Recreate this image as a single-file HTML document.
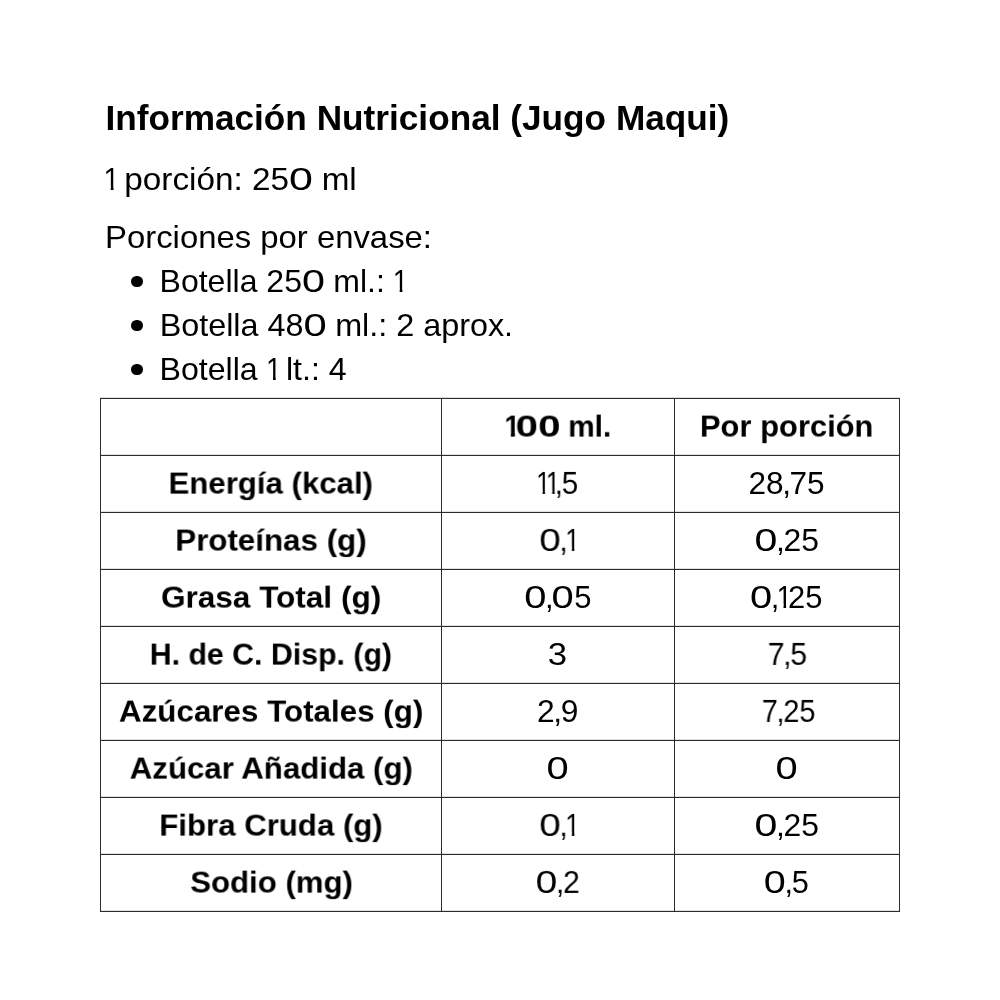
<!DOCTYPE html>
<html lang="es"><head><meta charset="utf-8"><title>Información Nutricional (Jugo Maqui)</title>
<style>
html,body{margin:0;padding:0;background:#fff;}
body{width:1000px;height:1000px;position:relative;overflow:hidden;font-family:"Liberation Sans",sans-serif;color:#000;}
.t{position:absolute;left:0;top:0;white-space:nowrap;line-height:1;transform-origin:0 0;will-change:transform;}
.b{font-weight:bold;}
.h{position:absolute;height:1px;background:#2c2c2c;box-shadow:0 -1px 0 rgba(0,0,0,.12);}
.v{position:absolute;width:1px;background:#2c2c2c;}
.z{display:inline-block;transform:scaleX(1.29);margin:0 .074em;}
.o{display:inline-block;transform:scaleX(.88);margin:0 -.17em 0 -.065em;clip-path:polygon(0 0,62% 0,62% 100%,44.5% 100%,44.5% 74%,0 74%);}
.b .o{transform:scaleX(.95);margin:0 -.13em 0 -.035em;clip-path:polygon(0 0,67.2% 0,67.2% 100%,41.5% 100%,41.5% 71%,0 71%);}
.b .z{transform:scaleX(1.34);margin:0 .083em;}
.k{margin:0 -.045em;}
.dot{position:absolute;width:11.4px;height:11.4px;border-radius:50%;background:#000;}
</style></head><body>
<div id="title" class="t b" style="font-size:35px;transform:translate(105.42px,100.17px) scale(1.0058,1.0)">Información Nutricional (Jugo Maqui)</div>
<div id="l2" class="t" style="font-size:32px;transform:translate(104.41px,162.71px) scale(1.0398,1.0)"><span class="o">1</span> porción: 25<span class="z">0</span> ml</div>
<div id="l3" class="t" style="font-size:32px;transform:translate(105.05px,220.71px) scale(1.0267,1.0)">Porciones por envase:</div>
<div id="b1" class="t" style="font-size:32px;transform:translate(159.56px,264.71px) scale(1.0003,1.0)">Botella 25<span class="z">0</span> ml.: <span class="o">1</span></div>
<div id="b2" class="t" style="font-size:32px;transform:translate(159.63px,308.71px) scale(1.0104,1.0)">Botella 48<span class="z">0</span> ml.: 2 aprox.</div>
<div id="b3" class="t" style="font-size:32px;transform:translate(159.52px,352.71px) scale(1.0038,1.0)">Botella <span class="o">1</span> lt.: 4</div>
<div id="c0_1" class="t b" style="font-size:30.5px;transform:translate(504.86px,411.74px) scale(0.9807,0.955)"><span class="o">1</span><span class="z">0</span><span class="z">0</span> ml.</div>
<div id="c0_2" class="t b" style="font-size:30.5px;transform:translate(699.88px,411.74px) scale(1.0138,0.955)">Por porción</div>
<div id="c1_0" class="t b" style="font-size:30.5px;transform:translate(168.55px,468.74px) scale(1.0222,0.955)">Energía (kcal)</div>
<div id="c1_1" class="t" style="font-size:30.5px;transform:translate(537.05px,467.88px) scale(0.9690,1.0)"><span class="o">1</span><span class="o">1</span><span class="k">,</span>5</div>
<div id="c1_2" class="t" style="font-size:30.5px;transform:translate(748.44px,467.88px) scale(1.0347,1.0)">28<span class="k">,</span>75</div>
<div id="c2_0" class="t b" style="font-size:30.5px;transform:translate(175.28px,525.74px) scale(1.0266,0.955)">Proteínas (g)</div>
<div id="c2_1" class="t" style="font-size:30.5px;transform:translate(539.76px,524.88px) scale(0.9823,1.0)"><span class="z">0</span><span class="k">,</span><span class="o">1</span></div>
<div id="c2_2" class="t" style="font-size:30.5px;transform:translate(754.99px,524.88px) scale(1.0448,1.0)"><span class="z">0</span><span class="k">,</span>25</div>
<div id="c3_0" class="t b" style="font-size:30.5px;transform:translate(161.05px,582.74px) scale(1.0337,0.955)">Grasa Total (g)</div>
<div id="c3_1" class="t" style="font-size:30.5px;transform:translate(524.65px,581.88px) scale(1.0160,1.0)"><span class="z">0</span><span class="k">,</span><span class="z">0</span>5</div>
<div id="c3_2" class="t" style="font-size:30.5px;transform:translate(750.43px,581.88px) scale(1.0134,1.0)"><span class="z">0</span><span class="k">,</span><span class="o">1</span>25</div>
<div id="c4_0" class="t b" style="font-size:30.5px;transform:translate(149.76px,639.74px) scale(0.9931,0.955)">H. de C. Disp. (g)</div>
<div id="c4_1" class="t" style="font-size:30.5px;transform:translate(547.87px,638.88px) scale(1.1374,1.0)">3</div>
<div id="c4_2" class="t" style="font-size:30.5px;transform:translate(767.74px,638.88px) scale(0.9913,1.0)">7<span class="k">,</span>5</div>
<div id="c5_0" class="t b" style="font-size:30.5px;transform:translate(118.91px,696.74px) scale(1.0283,0.955)">Azúcares Totales (g)</div>
<div id="c5_1" class="t" style="font-size:30.5px;transform:translate(537.03px,695.88px) scale(1.0429,1.0)">2<span class="k">,</span>9</div>
<div id="c5_2" class="t" style="font-size:30.5px;transform:translate(761.83px,695.88px) scale(0.9451,1.0)">7<span class="k">,</span>25</div>
<div id="c6_0" class="t b" style="font-size:30.5px;transform:translate(129.72px,753.74px) scale(1.0232,0.955)">Azúcar Añadida (g)</div>
<div id="c6_1" class="t" style="font-size:30.5px;transform:translate(546.93px,752.88px) scale(1.0151,1.0)"><span class="z">0</span></div>
<div id="c6_2" class="t" style="font-size:30.5px;transform:translate(775.93px,752.88px) scale(1.0151,1.0)"><span class="z">0</span></div>
<div id="c7_0" class="t b" style="font-size:30.5px;transform:translate(159.30px,810.74px) scale(1.0223,0.955)">Fibra Cruda (g)</div>
<div id="c7_1" class="t" style="font-size:30.5px;transform:translate(539.76px,809.88px) scale(0.9823,1.0)"><span class="z">0</span><span class="k">,</span><span class="o">1</span></div>
<div id="c7_2" class="t" style="font-size:30.5px;transform:translate(754.99px,809.88px) scale(1.0448,1.0)"><span class="z">0</span><span class="k">,</span>25</div>
<div id="c8_0" class="t b" style="font-size:30.5px;transform:translate(190.26px,867.74px) scale(1.0217,0.955)">Sodio (mg)</div>
<div id="c8_1" class="t" style="font-size:30.5px;transform:translate(536.13px,866.88px) scale(0.9872,1.0)"><span class="z">0</span><span class="k">,</span>2</div>
<div id="c8_2" class="t" style="font-size:30.5px;transform:translate(764.25px,866.88px) scale(1.0058,1.0)"><span class="z">0</span><span class="k">,</span>5</div>
<div class="dot" style="left:131.4px;top:275.8px"></div>
<div class="dot" style="left:131.4px;top:319.8px"></div>
<div class="dot" style="left:131.4px;top:363.8px"></div>
<div class="h" style="left:100px;width:800px;top:398px"></div>
<div class="h" style="left:100px;width:800px;top:455px"></div>
<div class="h" style="left:100px;width:800px;top:512px"></div>
<div class="h" style="left:100px;width:800px;top:569px"></div>
<div class="h" style="left:100px;width:800px;top:626px"></div>
<div class="h" style="left:100px;width:800px;top:683px"></div>
<div class="h" style="left:100px;width:800px;top:740px"></div>
<div class="h" style="left:100px;width:800px;top:797px"></div>
<div class="h" style="left:100px;width:800px;top:854px"></div>
<div class="h" style="left:100px;width:800px;top:911px"></div>
<div class="v" style="left:100px;top:398px;height:514px"></div>
<div class="v" style="left:441px;top:398px;height:514px"></div>
<div class="v" style="left:674px;top:398px;height:514px"></div>
<div class="v" style="left:899px;top:398px;height:514px"></div>
</body></html>
